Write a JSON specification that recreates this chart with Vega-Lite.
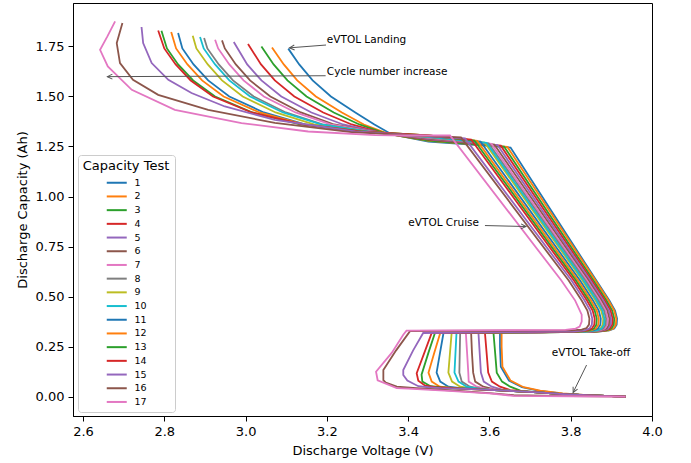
{
  "$schema": "https://vega.github.io/schema/vega-lite/v6.json",
  "width": 579,
  "height": 413,
  "autosize": {"type": "none"},
  "padding": {"left": 73, "top": 3, "right": 39, "bottom": 47},
  "config": {
    "font": "DejaVu Sans",
    "view": {"stroke": "black", "strokeWidth": 1},
    "axis": {
      "grid": false, "domainColor": "black", "domainWidth": 1,
      "tickColor": "black", "tickSize": 5, "tickWidth": 1,
      "labelColor": "black", "labelFont": "DejaVu Sans", "labelFontSize": 13, "labelPadding": 4,
      "labelFlush": false, "labelOverlap": false,
      "titleColor": "black", "titleFont": "DejaVu Sans", "titleFontSize": 13, "titleFontWeight": "normal"
    },
    "axisX": {"titlePadding": 6},
    "axisY": {"titlePadding": 6}
  },
  "encoding": {
    "x": {
      "field": "v", "type": "quantitative",
      "scale": {"domain": [2.5754, 4.0], "nice": false, "zero": false},
      "axis": {"title": "Discharge Voltage (V)", "values": [2.6, 2.8, 3.0, 3.2, 3.4, 3.6, 3.8, 4.0], "format": ".1f"}
    },
    "y": {
      "field": "c", "type": "quantitative",
      "scale": {"domain": [-0.0967, 1.967], "nice": false, "zero": false},
      "axis": {"title": "Discharge Capacity (Ah)", "values": [0, 0.25, 0.5, 0.75, 1.0, 1.25, 1.5, 1.75], "format": ".2f"}
    }
  },
  "layer": [
    {
      "data": {"values": [
        {"k":1,"v":3.935,"c":0},{"k":1,"v":3.85,"c":0.006},{"k":1,"v":3.78,"c":0.015},{"k":1,"v":3.72,"c":0.03},{"k":1,"v":3.68,"c":0.047},{"k":1,"v":3.648,"c":0.08},{"k":1,"v":3.628,"c":0.15},{"k":1,"v":3.626,"c":0.25},{"k":1,"v":3.626,"c":0.318},{"k":1,"v":3.868,"c":0.325},{"k":1,"v":3.895,"c":0.331},{"k":1,"v":3.907,"c":0.34},{"k":1,"v":3.913,"c":0.36},{"k":1,"v":3.914,"c":0.39},{"k":1,"v":3.909,"c":0.43},{"k":1,"v":3.895,"c":0.48},{"k":1,"v":3.863,"c":0.58},{"k":1,"v":3.652,"c":1.245},{"k":1,"v":3.45,"c":1.275},{"k":1,"v":3.36,"c":1.31},{"k":1,"v":3.317,"c":1.36},{"k":1,"v":3.27,"c":1.42},{"k":1,"v":3.21,"c":1.5},{"k":1,"v":3.165,"c":1.58},{"k":1,"v":3.132,"c":1.66},{"k":1,"v":3.105,"c":1.739},
        {"k":2,"v":3.935,"c":0},{"k":2,"v":3.85,"c":0.006},{"k":2,"v":3.78,"c":0.016},{"k":2,"v":3.725,"c":0.03},{"k":2,"v":3.684,"c":0.047},{"k":2,"v":3.652,"c":0.08},{"k":2,"v":3.632,"c":0.15},{"k":2,"v":3.63,"c":0.25},{"k":2,"v":3.63,"c":0.318},{"k":2,"v":3.866,"c":0.325},{"k":2,"v":3.893,"c":0.331},{"k":2,"v":3.905,"c":0.34},{"k":2,"v":3.911,"c":0.36},{"k":2,"v":3.912,"c":0.39},{"k":2,"v":3.907,"c":0.43},{"k":2,"v":3.893,"c":0.48},{"k":2,"v":3.861,"c":0.58},{"k":2,"v":3.644,"c":1.248},{"k":2,"v":3.45,"c":1.278},{"k":2,"v":3.353,"c":1.312},{"k":2,"v":3.291,"c":1.36},{"k":2,"v":3.237,"c":1.42},{"k":2,"v":3.173,"c":1.5},{"k":2,"v":3.127,"c":1.58},{"k":2,"v":3.094,"c":1.66},{"k":2,"v":3.065,"c":1.745},
        {"k":3,"v":3.935,"c":0},{"k":3,"v":3.85,"c":0.006},{"k":3,"v":3.78,"c":0.013},{"k":3,"v":3.72,"c":0.021},{"k":3,"v":3.676,"c":0.03},{"k":3,"v":3.651,"c":0.05},{"k":3,"v":3.631,"c":0.075},{"k":3,"v":3.618,"c":0.12},{"k":3,"v":3.614,"c":0.22},{"k":3,"v":3.61,"c":0.318},{"k":3,"v":3.861,"c":0.325},{"k":3,"v":3.888,"c":0.331},{"k":3,"v":3.9,"c":0.34},{"k":3,"v":3.906,"c":0.36},{"k":3,"v":3.907,"c":0.39},{"k":3,"v":3.902,"c":0.43},{"k":3,"v":3.888,"c":0.48},{"k":3,"v":3.856,"c":0.58},{"k":3,"v":3.636,"c":1.25},{"k":3,"v":3.45,"c":1.28},{"k":3,"v":3.346,"c":1.314},{"k":3,"v":3.28,"c":1.36},{"k":3,"v":3.217,"c":1.42},{"k":3,"v":3.15,"c":1.5},{"k":3,"v":3.103,"c":1.58},{"k":3,"v":3.069,"c":1.66},{"k":3,"v":3.039,"c":1.75},
        {"k":4,"v":3.935,"c":0},{"k":4,"v":3.85,"c":0.006},{"k":4,"v":3.78,"c":0.013},{"k":4,"v":3.72,"c":0.021},{"k":4,"v":3.651,"c":0.033},{"k":4,"v":3.626,"c":0.05},{"k":4,"v":3.606,"c":0.075},{"k":4,"v":3.597,"c":0.12},{"k":4,"v":3.593,"c":0.22},{"k":4,"v":3.589,"c":0.318},{"k":4,"v":3.857,"c":0.325},{"k":4,"v":3.884,"c":0.331},{"k":4,"v":3.896,"c":0.34},{"k":4,"v":3.902,"c":0.36},{"k":4,"v":3.903,"c":0.39},{"k":4,"v":3.898,"c":0.43},{"k":4,"v":3.884,"c":0.48},{"k":4,"v":3.852,"c":0.58},{"k":4,"v":3.628,"c":1.254},{"k":4,"v":3.45,"c":1.284},{"k":4,"v":3.34,"c":1.316},{"k":4,"v":3.261,"c":1.36},{"k":4,"v":3.191,"c":1.42},{"k":4,"v":3.12,"c":1.5},{"k":4,"v":3.072,"c":1.58},{"k":4,"v":3.038,"c":1.66},{"k":4,"v":3.006,"c":1.762},
        {"k":5,"v":3.935,"c":0},{"k":5,"v":3.85,"c":0.006},{"k":5,"v":3.78,"c":0.013},{"k":5,"v":3.72,"c":0.021},{"k":5,"v":3.66,"c":0.028},{"k":5,"v":3.631,"c":0.035},{"k":5,"v":3.606,"c":0.05},{"k":5,"v":3.586,"c":0.075},{"k":5,"v":3.579,"c":0.12},{"k":5,"v":3.576,"c":0.22},{"k":5,"v":3.573,"c":0.318},{"k":5,"v":3.853,"c":0.325},{"k":5,"v":3.88,"c":0.331},{"k":5,"v":3.892,"c":0.34},{"k":5,"v":3.898,"c":0.36},{"k":5,"v":3.899,"c":0.39},{"k":5,"v":3.894,"c":0.43},{"k":5,"v":3.88,"c":0.48},{"k":5,"v":3.848,"c":0.58},{"k":5,"v":3.62,"c":1.257},{"k":5,"v":3.45,"c":1.287},{"k":5,"v":3.334,"c":1.318},{"k":5,"v":3.24,"c":1.36},{"k":5,"v":3.162,"c":1.42},{"k":5,"v":3.088,"c":1.5},{"k":5,"v":3.039,"c":1.58},{"k":5,"v":3.004,"c":1.66},{"k":5,"v":2.971,"c":1.772},
        {"k":6,"v":3.935,"c":0},{"k":6,"v":3.85,"c":0.006},{"k":6,"v":3.78,"c":0.013},{"k":6,"v":3.72,"c":0.021},{"k":6,"v":3.66,"c":0.028},{"k":6,"v":3.61,"c":0.037},{"k":6,"v":3.585,"c":0.05},{"k":6,"v":3.565,"c":0.075},{"k":6,"v":3.56,"c":0.12},{"k":6,"v":3.557,"c":0.22},{"k":6,"v":3.555,"c":0.318},{"k":6,"v":3.849,"c":0.325},{"k":6,"v":3.876,"c":0.331},{"k":6,"v":3.888,"c":0.34},{"k":6,"v":3.894,"c":0.36},{"k":6,"v":3.895,"c":0.39},{"k":6,"v":3.89,"c":0.43},{"k":6,"v":3.876,"c":0.48},{"k":6,"v":3.844,"c":0.58},{"k":6,"v":3.612,"c":1.26},{"k":6,"v":3.45,"c":1.29},{"k":6,"v":3.328,"c":1.319},{"k":6,"v":3.218,"c":1.36},{"k":6,"v":3.136,"c":1.42},{"k":6,"v":3.061,"c":1.5},{"k":6,"v":3.011,"c":1.58},{"k":6,"v":2.976,"c":1.66},{"k":6,"v":2.949,"c":1.74},{"k":6,"v":2.942,"c":1.78},
        {"k":7,"v":3.935,"c":0},{"k":7,"v":3.85,"c":0.006},{"k":7,"v":3.78,"c":0.013},{"k":7,"v":3.72,"c":0.021},{"k":7,"v":3.66,"c":0.028},{"k":7,"v":3.594,"c":0.0385},{"k":7,"v":3.569,"c":0.05},{"k":7,"v":3.549,"c":0.075},{"k":7,"v":3.548,"c":0.12},{"k":7,"v":3.545,"c":0.22},{"k":7,"v":3.542,"c":0.318},{"k":7,"v":3.845,"c":0.325},{"k":7,"v":3.872,"c":0.331},{"k":7,"v":3.884,"c":0.34},{"k":7,"v":3.89,"c":0.36},{"k":7,"v":3.891,"c":0.39},{"k":7,"v":3.886,"c":0.43},{"k":7,"v":3.872,"c":0.48},{"k":7,"v":3.84,"c":0.58},{"k":7,"v":3.605,"c":1.263},{"k":7,"v":3.45,"c":1.293},{"k":7,"v":3.322,"c":1.32},{"k":7,"v":3.209,"c":1.36},{"k":7,"v":3.123,"c":1.42},{"k":7,"v":3.045,"c":1.5},{"k":7,"v":2.995,"c":1.58},{"k":7,"v":2.96,"c":1.66},{"k":7,"v":2.9325,"c":1.74},{"k":7,"v":2.925,"c":1.7835},
        {"k":8,"v":3.935,"c":0},{"k":8,"v":3.85,"c":0.006},{"k":8,"v":3.78,"c":0.013},{"k":8,"v":3.72,"c":0.021},{"k":8,"v":3.66,"c":0.028},{"k":8,"v":3.6,"c":0.034},{"k":8,"v":3.577,"c":0.04},{"k":8,"v":3.552,"c":0.05},{"k":8,"v":3.532,"c":0.075},{"k":8,"v":3.526,"c":0.12},{"k":8,"v":3.527,"c":0.22},{"k":8,"v":3.528,"c":0.318},{"k":8,"v":3.841,"c":0.325},{"k":8,"v":3.868,"c":0.331},{"k":8,"v":3.88,"c":0.34},{"k":8,"v":3.886,"c":0.36},{"k":8,"v":3.887,"c":0.39},{"k":8,"v":3.882,"c":0.43},{"k":8,"v":3.868,"c":0.48},{"k":8,"v":3.836,"c":0.58},{"k":8,"v":3.598,"c":1.266},{"k":8,"v":3.45,"c":1.296},{"k":8,"v":3.316,"c":1.321},{"k":8,"v":3.189,"c":1.36},{"k":8,"v":3.099,"c":1.42},{"k":8,"v":3.02,"c":1.5},{"k":8,"v":2.969,"c":1.58},{"k":8,"v":2.934,"c":1.66},{"k":8,"v":2.906,"c":1.74},{"k":8,"v":2.898,"c":1.792},
        {"k":9,"v":3.935,"c":0},{"k":9,"v":3.85,"c":0.006},{"k":9,"v":3.78,"c":0.013},{"k":9,"v":3.72,"c":0.021},{"k":9,"v":3.66,"c":0.028},{"k":9,"v":3.6,"c":0.034},{"k":9,"v":3.553,"c":0.042},{"k":9,"v":3.528,"c":0.05},{"k":9,"v":3.508,"c":0.075},{"k":9,"v":3.499,"c":0.12},{"k":9,"v":3.503,"c":0.22},{"k":9,"v":3.507,"c":0.318},{"k":9,"v":3.834,"c":0.325},{"k":9,"v":3.861,"c":0.331},{"k":9,"v":3.873,"c":0.34},{"k":9,"v":3.879,"c":0.36},{"k":9,"v":3.88,"c":0.39},{"k":9,"v":3.875,"c":0.43},{"k":9,"v":3.861,"c":0.48},{"k":9,"v":3.829,"c":0.58},{"k":9,"v":3.588,"c":1.27},{"k":9,"v":3.45,"c":1.3},{"k":9,"v":3.305,"c":1.322},{"k":9,"v":3.168,"c":1.36},{"k":9,"v":3.074,"c":1.42},{"k":9,"v":2.993,"c":1.5},{"k":9,"v":2.942,"c":1.58},{"k":9,"v":2.907,"c":1.66},{"k":9,"v":2.879,"c":1.74},{"k":9,"v":2.87,"c":1.8035},
        {"k":10,"v":3.935,"c":0},{"k":10,"v":3.85,"c":0.006},{"k":10,"v":3.78,"c":0.013},{"k":10,"v":3.72,"c":0.021},{"k":10,"v":3.66,"c":0.028},{"k":10,"v":3.6,"c":0.034},{"k":10,"v":3.569,"c":0.041},{"k":10,"v":3.544,"c":0.05},{"k":10,"v":3.524,"c":0.075},{"k":10,"v":3.514,"c":0.12},{"k":10,"v":3.5165,"c":0.22},{"k":10,"v":3.519,"c":0.318},{"k":10,"v":3.837,"c":0.325},{"k":10,"v":3.864,"c":0.331},{"k":10,"v":3.876,"c":0.34},{"k":10,"v":3.882,"c":0.36},{"k":10,"v":3.883,"c":0.39},{"k":10,"v":3.878,"c":0.43},{"k":10,"v":3.864,"c":0.48},{"k":10,"v":3.832,"c":0.58},{"k":10,"v":3.593,"c":1.268},{"k":10,"v":3.45,"c":1.298},{"k":10,"v":3.31,"c":1.322},{"k":10,"v":3.186,"c":1.36},{"k":10,"v":3.092,"c":1.42},{"k":10,"v":3.011,"c":1.5},{"k":10,"v":2.96,"c":1.58},{"k":10,"v":2.925,"c":1.66},{"k":10,"v":2.897,"c":1.74},{"k":10,"v":2.888,"c":1.797},
        {"k":11,"v":3.935,"c":0},{"k":11,"v":3.85,"c":0.006},{"k":11,"v":3.78,"c":0.013},{"k":11,"v":3.72,"c":0.021},{"k":11,"v":3.66,"c":0.028},{"k":11,"v":3.6,"c":0.034},{"k":11,"v":3.524,"c":0.044},{"k":11,"v":3.499,"c":0.05},{"k":11,"v":3.479,"c":0.075},{"k":11,"v":3.47,"c":0.12},{"k":11,"v":3.4785,"c":0.22},{"k":11,"v":3.487,"c":0.318},{"k":11,"v":3.828,"c":0.325},{"k":11,"v":3.855,"c":0.331},{"k":11,"v":3.867,"c":0.34},{"k":11,"v":3.873,"c":0.36},{"k":11,"v":3.874,"c":0.39},{"k":11,"v":3.869,"c":0.43},{"k":11,"v":3.855,"c":0.48},{"k":11,"v":3.823,"c":0.58},{"k":11,"v":3.578,"c":1.275},{"k":11,"v":3.45,"c":1.303},{"k":11,"v":3.295,"c":1.323},{"k":11,"v":3.146,"c":1.36},{"k":11,"v":3.045,"c":1.42},{"k":11,"v":2.96,"c":1.5},{"k":11,"v":2.908,"c":1.58},{"k":11,"v":2.872,"c":1.66},{"k":11,"v":2.8445,"c":1.74},{"k":11,"v":2.834,"c":1.817},
        {"k":12,"v":3.935,"c":0},{"k":12,"v":3.85,"c":0.006},{"k":12,"v":3.78,"c":0.013},{"k":12,"v":3.72,"c":0.021},{"k":12,"v":3.66,"c":0.028},{"k":12,"v":3.6,"c":0.034},{"k":12,"v":3.54,"c":0.039},{"k":12,"v":3.503,"c":0.0455},{"k":12,"v":3.478,"c":0.05},{"k":12,"v":3.458,"c":0.075},{"k":12,"v":3.45,"c":0.12},{"k":12,"v":3.4645,"c":0.22},{"k":12,"v":3.479,"c":0.318},{"k":12,"v":3.823,"c":0.325},{"k":12,"v":3.85,"c":0.331},{"k":12,"v":3.862,"c":0.34},{"k":12,"v":3.868,"c":0.36},{"k":12,"v":3.869,"c":0.39},{"k":12,"v":3.864,"c":0.43},{"k":12,"v":3.85,"c":0.48},{"k":12,"v":3.818,"c":0.58},{"k":12,"v":3.57,"c":1.278},{"k":12,"v":3.45,"c":1.305},{"k":12,"v":3.29,"c":1.324},{"k":12,"v":3.143,"c":1.36},{"k":12,"v":3.034,"c":1.42},{"k":12,"v":2.946,"c":1.5},{"k":12,"v":2.893,"c":1.58},{"k":12,"v":2.857,"c":1.66},{"k":12,"v":2.829,"c":1.74},{"k":12,"v":2.817,"c":1.822},
        {"k":13,"v":3.935,"c":0},{"k":13,"v":3.85,"c":0.006},{"k":13,"v":3.78,"c":0.013},{"k":13,"v":3.72,"c":0.021},{"k":13,"v":3.66,"c":0.028},{"k":13,"v":3.6,"c":0.034},{"k":13,"v":3.54,"c":0.039},{"k":13,"v":3.48,"c":0.047},{"k":13,"v":3.455,"c":0.052},{"k":13,"v":3.435,"c":0.075},{"k":13,"v":3.433,"c":0.11},{"k":13,"v":3.45,"c":0.22},{"k":13,"v":3.466,"c":0.318},{"k":13,"v":3.818,"c":0.325},{"k":13,"v":3.845,"c":0.331},{"k":13,"v":3.857,"c":0.34},{"k":13,"v":3.863,"c":0.36},{"k":13,"v":3.864,"c":0.39},{"k":13,"v":3.859,"c":0.43},{"k":13,"v":3.845,"c":0.48},{"k":13,"v":3.813,"c":0.58},{"k":13,"v":3.563,"c":1.28},{"k":13,"v":3.45,"c":1.305},{"k":13,"v":3.285,"c":1.325},{"k":13,"v":3.134,"c":1.36},{"k":13,"v":3.017,"c":1.42},{"k":13,"v":2.925,"c":1.5},{"k":13,"v":2.871,"c":1.58},{"k":13,"v":2.834,"c":1.66},{"k":13,"v":2.8065,"c":1.74},{"k":13,"v":2.793,"c":1.8285},
        {"k":14,"v":3.935,"c":0},{"k":14,"v":3.85,"c":0.006},{"k":14,"v":3.78,"c":0.013},{"k":14,"v":3.72,"c":0.021},{"k":14,"v":3.66,"c":0.028},{"k":14,"v":3.6,"c":0.034},{"k":14,"v":3.54,"c":0.039},{"k":14,"v":3.467,"c":0.048},{"k":14,"v":3.442,"c":0.055},{"k":14,"v":3.425,"c":0.08},{"k":14,"v":3.421,"c":0.117},{"k":14,"v":3.44,"c":0.22},{"k":14,"v":3.458,"c":0.318},{"k":14,"v":3.813,"c":0.325},{"k":14,"v":3.84,"c":0.331},{"k":14,"v":3.852,"c":0.34},{"k":14,"v":3.858,"c":0.36},{"k":14,"v":3.859,"c":0.39},{"k":14,"v":3.854,"c":0.43},{"k":14,"v":3.84,"c":0.48},{"k":14,"v":3.808,"c":0.58},{"k":14,"v":3.555,"c":1.285},{"k":14,"v":3.45,"c":1.305},{"k":14,"v":3.28,"c":1.326},{"k":14,"v":3.14,"c":1.36},{"k":14,"v":3.015,"c":1.42},{"k":14,"v":2.92,"c":1.5},{"k":14,"v":2.865,"c":1.58},{"k":14,"v":2.828,"c":1.66},{"k":14,"v":2.8,"c":1.74},{"k":14,"v":2.785,"c":1.83},
        {"k":15,"v":3.935,"c":0},{"k":15,"v":3.85,"c":0.006},{"k":15,"v":3.78,"c":0.013},{"k":15,"v":3.72,"c":0.021},{"k":15,"v":3.66,"c":0.028},{"k":15,"v":3.6,"c":0.034},{"k":15,"v":3.54,"c":0.039},{"k":15,"v":3.48,"c":0.043},{"k":15,"v":3.45,"c":0.047},{"k":15,"v":3.425,"c":0.052},{"k":15,"v":3.398,"c":0.08},{"k":15,"v":3.388,"c":0.108},{"k":15,"v":3.388,"c":0.133},{"k":15,"v":3.412,"c":0.23},{"k":15,"v":3.437,"c":0.318},{"k":15,"v":3.807,"c":0.325},{"k":15,"v":3.834,"c":0.331},{"k":15,"v":3.846,"c":0.34},{"k":15,"v":3.852,"c":0.36},{"k":15,"v":3.853,"c":0.39},{"k":15,"v":3.848,"c":0.43},{"k":15,"v":3.834,"c":0.48},{"k":15,"v":3.802,"c":0.58},{"k":15,"v":3.54,"c":1.29},{"k":15,"v":3.42,"c":1.305},{"k":15,"v":3.27,"c":1.325},{"k":15,"v":3.072,"c":1.383},{"k":15,"v":2.949,"c":1.45},{"k":15,"v":2.867,"c":1.517},{"k":15,"v":2.81,"c":1.583},{"k":15,"v":2.769,"c":1.667},{"k":15,"v":2.748,"c":1.767},{"k":15,"v":2.744,"c":1.847},
        {"k":16,"v":3.935,"c":0},{"k":16,"v":3.8,"c":0.003},{"k":16,"v":3.66,"c":0.007},{"k":16,"v":3.6,"c":0.018},{"k":16,"v":3.5,"c":0.032},{"k":16,"v":3.42,"c":0.042},{"k":16,"v":3.372,"c":0.05},{"k":16,"v":3.345,"c":0.07},{"k":16,"v":3.339,"c":0.083},{"k":16,"v":3.339,"c":0.133},{"k":16,"v":3.37,"c":0.23},{"k":16,"v":3.405,"c":0.328},{"k":16,"v":3.8,"c":0.331},{"k":16,"v":3.827,"c":0.335},{"k":16,"v":3.839,"c":0.343},{"k":16,"v":3.845,"c":0.36},{"k":16,"v":3.846,"c":0.39},{"k":16,"v":3.841,"c":0.43},{"k":16,"v":3.827,"c":0.48},{"k":16,"v":3.795,"c":0.58},{"k":16,"v":3.53,"c":1.295},{"k":16,"v":3.42,"c":1.305},{"k":16,"v":3.26,"c":1.322},{"k":16,"v":3.072,"c":1.368},{"k":16,"v":2.908,"c":1.433},{"k":16,"v":2.785,"c":1.508},{"k":16,"v":2.723,"c":1.583},{"k":16,"v":2.691,"c":1.667},{"k":16,"v":2.683,"c":1.767},{"k":16,"v":2.697,"c":1.867},
        {"k":17,"v":3.935,"c":0},{"k":17,"v":3.8,"c":0.002},{"k":17,"v":3.66,"c":0.004},{"k":17,"v":3.6,"c":0.016},{"k":17,"v":3.5,"c":0.029},{"k":17,"v":3.4,"c":0.04},{"k":17,"v":3.372,"c":0.043},{"k":17,"v":3.325,"c":0.082},{"k":17,"v":3.321,"c":0.125},{"k":17,"v":3.36,"c":0.22},{"k":17,"v":3.388,"c":0.309},{"k":17,"v":3.396,"c":0.33},{"k":17,"v":3.787,"c":0.334},{"k":17,"v":3.812,"c":0.34},{"k":17,"v":3.822,"c":0.35},{"k":17,"v":3.827,"c":0.375},{"k":17,"v":3.827,"c":0.41},{"k":17,"v":3.811,"c":0.48},{"k":17,"v":3.777,"c":0.58},{"k":17,"v":3.503,"c":1.305},{"k":17,"v":3.4,"c":1.305},{"k":17,"v":3.319,"c":1.307},{"k":17,"v":3.154,"c":1.325},{"k":17,"v":2.99,"c":1.367},{"k":17,"v":2.826,"c":1.433},{"k":17,"v":2.72,"c":1.533},{"k":17,"v":2.661,"c":1.65},{"k":17,"v":2.642,"c":1.733},{"k":17,"v":2.66,"c":1.8},{"k":17,"v":2.679,"c":1.875}
      ]},
      "mark": {"type": "line", "strokeWidth": 1.8, "clip": true},
      "encoding": {
        "order": {"value": null},
        "color": {
          "field": "k", "type": "nominal",
          "scale": {
            "domain": [1, 2, 3, 4, 5, 6, 7, 8, 9, 10, 11, 12, 13, 14, 15, 16, 17],
            "range": ["#1f77b4", "#ff7f0e", "#2ca02c", "#d62728", "#9467bd", "#8c564b", "#e377c2", "#7f7f7f", "#bcbd22", "#17becf", "#1f77b4", "#ff7f0e", "#2ca02c", "#d62728", "#9467bd", "#8c564b", "#e377c2"]
          },
          "legend": {
            "title": "Capacity Test", "orient": "none", "legendX": 5, "legendY": 152,
            "titleFont": "DejaVu Sans", "titleFontSize": 13, "titleFontWeight": "normal", "titleColor": "black",
            "titleAnchor": "middle", "titlePadding": 5,
            "labelFont": "DejaVu Sans", "labelFontSize": 9.5, "labelColor": "black", "labelOffset": 13,
            "symbolType": "M-4,0H4", "symbolSize": 25, "symbolStrokeWidth": 2, "symbolOffset": 6,
            "rowPadding": 2.7, "padding": 5,
            "fillColor": "white", "strokeColor": "#cccccc", "cornerRadius": 3
          }
        }
      }
    },
    {
      "data": {"values": [
        {"v": 3.198, "c": 1.757, "v2": 3.108, "c2": 1.743},
        {"v": 3.197, "c": 1.6035, "v2": 2.66, "c2": 1.599},
        {"v": 3.589, "c": 0.855, "v2": 3.69, "c2": 0.85},
        {"v": 3.839, "c": 0.158, "v2": 3.806, "c2": 0.021}
      ]},
      "mark": {"type": "rule", "color": "#555555", "strokeWidth": 1},
      "encoding": {"x2": {"field": "v2"}, "y2": {"field": "c2"}}
    },
    {
      "data": {"values": [{"v": 3.108, "c": 1.743}]},
      "mark": {"type": "point", "shape": "M-1,-0.5L0,0L-1,0.5", "filled": false, "stroke": "#555555", "strokeWidth": 1, "size": 100, "angle": 175.6, "opacity": 1},
      "encoding": {}
    },
    {
      "data": {"values": [{"v": 2.66, "c": 1.599}]},
      "mark": {"type": "point", "shape": "M-1,-0.5L0,0L-1,0.5", "filled": false, "stroke": "#555555", "strokeWidth": 1, "size": 100, "angle": 179.8, "opacity": 1},
      "encoding": {}
    },
    {
      "data": {"values": [{"v": 3.69, "c": 0.85}]},
      "mark": {"type": "point", "shape": "M-1,-0.5L0,0L-1,0.5", "filled": false, "stroke": "#555555", "strokeWidth": 1, "size": 100, "angle": 1.4, "opacity": 1},
      "encoding": {}
    },
    {
      "data": {"values": [{"v": 3.806, "c": 0.021}]},
      "mark": {"type": "point", "shape": "M-1,-0.5L0,0L-1,0.5", "filled": false, "stroke": "#555555", "strokeWidth": 1, "size": 100, "angle": 116.1, "opacity": 1},
      "encoding": {}
    },
    {
      "data": {"values": [
        {"v": 3.2, "c": 1.782, "t": "eVTOL Landing"},
        {"v": 3.2, "c": 1.621, "t": "Cycle number increase"},
        {"v": 3.4005, "c": 0.867, "t": "eVTOL Cruise"},
        {"v": 3.7533, "c": 0.217, "t": "eVTOL Take-off"}
      ]},
      "mark": {"type": "text", "align": "left", "baseline": "middle", "font": "DejaVu Sans", "fontSize": 10.5, "color": "black"},
      "encoding": {"text": {"field": "t"}}
    }
  ]
}
